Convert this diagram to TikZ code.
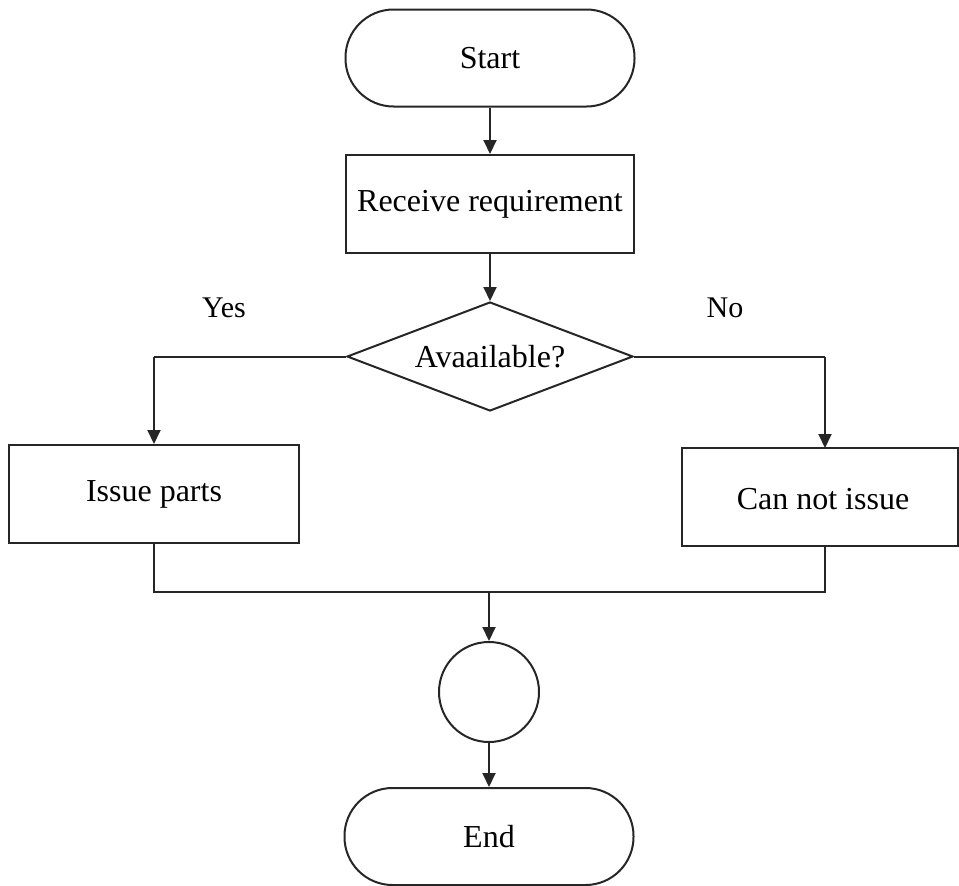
\documentclass[tikz,border=0pt]{standalone}
\usepackage{fontspec}
\setmainfont{Liberation Serif}
\usetikzlibrary{arrows.meta,shapes.geometric}
\begin{document}
\begin{tikzpicture}[x=1pt,y=-1pt,
  every node/.style={font=\fontsize{32}{36}\selectfont, inner sep=0pt},
  line/.style={line width=2pt, draw=black!85},
  arr/.style={line, -{Triangle[width=13pt,length=14pt]}},
  terminal/.style={line, draw, rectangle, rounded corners=48pt, minimum width=289pt, minimum height=97pt},
  procbox/.style={line, draw, rectangle, minimum height=98pt},
  decision/.style={line, draw, diamond, minimum width=286pt, minimum height=109pt, aspect=2.62},
  connector/.style={line, draw, circle, minimum size=100pt},
  lbl/.style={font=\fontsize{30}{34}\selectfont}
]
\useasboundingbox (0,0) rectangle (959,886);

\node[terminal] (start) at (490,58) {Start};
\node[procbox, minimum width=288pt] (recv) at (490,204) {Receive requirement};
\node[decision] (avail) at (490,356.5) {Avaailable?};
\node[procbox, minimum width=290pt] (issue) at (154,494) {Issue parts};
\node[procbox, minimum width=276pt] (cannot) at (820,497) {};
\node (cannottxt) at (823,499) {Can not issue};
\node[connector] (conn) at (489,692) {};
\node[terminal] (end) at (489,836.5) {End};

\node[lbl] (yes) at (224,308) {Yes};
\node[lbl] (no) at (725,308) {No};

\coordinate (lturn) at (154,356.5);
\coordinate (rturn) at (825,356.5);
\coordinate (ltop) at (154,448);
\coordinate (rtop) at (825,448);
\coordinate (lbot) at (154,543);
\coordinate (rbot) at (825,546);
\coordinate (ljoin) at (154,592);
\coordinate (rjoin) at (825,592);
\coordinate (mjoin) at (489,592);

\draw[arr] (start.south) -- (recv.north);
\draw[arr] (recv.south) -- (avail.north);
\draw[line] (avail.west) -- (lturn);
\draw[arr] (lturn) -- (issue.north);
\draw[line] (avail.east) -- (rturn);
\draw[arr] (rturn) -- (rtop);
\draw[line] (lbot) -- (ljoin) -- (rjoin) -- (rbot);
\draw[arr] (mjoin) -- (conn.north);
\draw[arr] (conn.south) -- (end.north);
\end{tikzpicture}
\end{document}
